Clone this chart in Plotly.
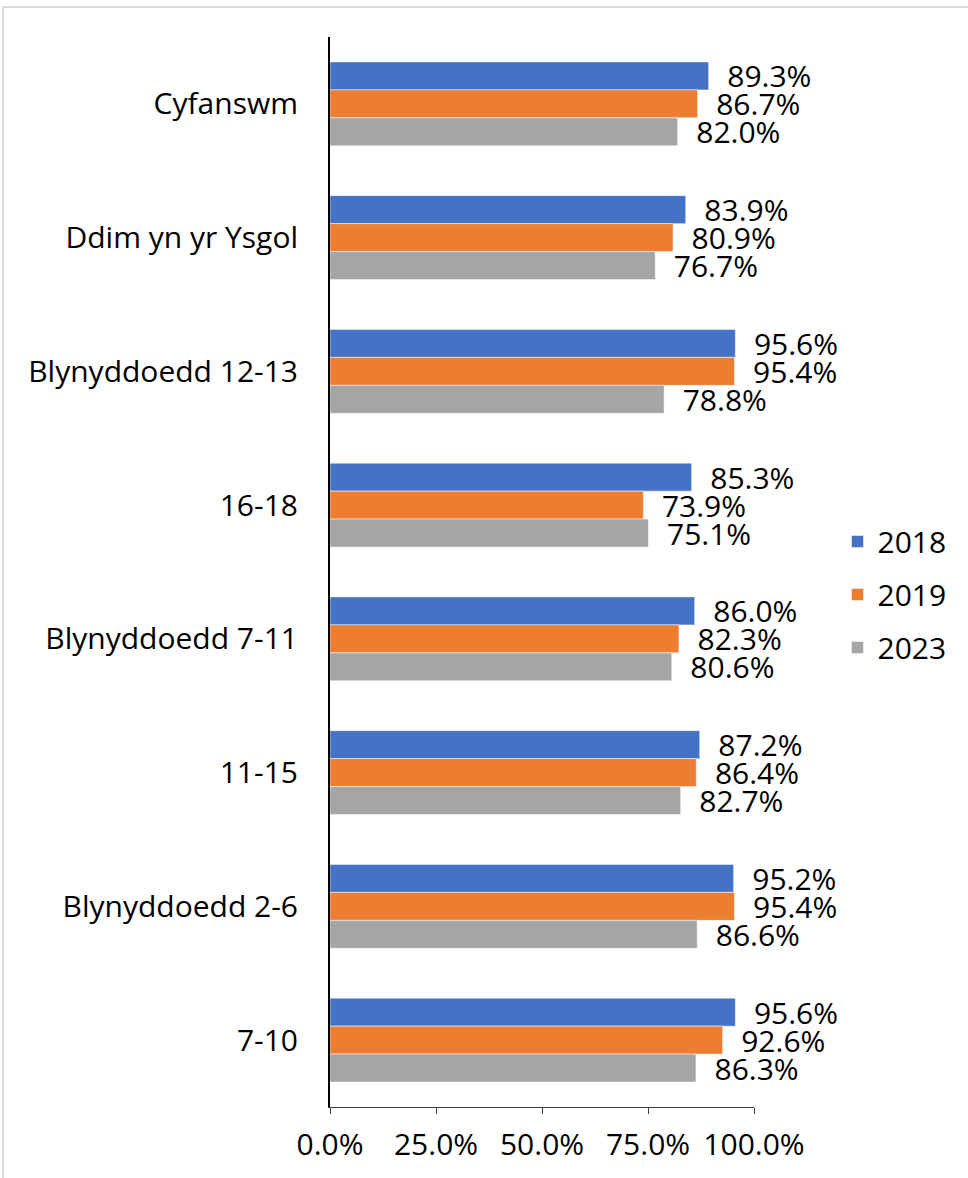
import plotly.graph_objects as go

categories = ["Cyfanswm", "Ddim yn yr Ysgol", "Blynyddoedd 12-13", "16-18",
              "Blynyddoedd 7-11", "11-15", "Blynyddoedd 2-6", "7-10"]
series_names = ["2018", "2019", "2023"]
values_2018 = [0.893, 0.839, 0.956, 0.853, 0.860, 0.872, 0.952, 0.956]
values_2019 = [0.867, 0.809, 0.954, 0.739, 0.823, 0.864, 0.954, 0.926]
values_2023 = [0.820, 0.767, 0.788, 0.751, 0.806, 0.827, 0.866, 0.863]
tick_vals = [0, 0.25, 0.5, 0.75, 1.0]
tick_text = ["0.0%", "25.0%", "50.0%", "75.0%", "100.0%"]

colors = ["#4472C4", "#ED7D31", "#A5A5A5"]
FONT = "Open Sans"
FS = 30
W, H = 968, 1178
ML, MR, MT, MB = 330, 214, 37, 71

fig = go.Figure()
for name, vals, col in zip(series_names, [values_2018, values_2019, values_2023], colors):
    fig.add_trace(go.Bar(
        y=categories, x=vals, name=name, orientation="h",
        marker=dict(color=col, line=dict(color="white", width=0.5)),
        text=[f"{v*100:.1f}%" for v in vals],
        texttemplate="\u00a0\u00a0%{text}",
        textposition="outside", constraintext="none", cliponaxis=False,
        textfont=dict(family=FONT, size=FS, color="black"),
        legendgroup=name,
    ))

pw = W - ML - MR
ph = H - MT - MB
fig.update_layout(
    width=W, height=H,
    margin=dict(l=ML, r=MR, t=MT, b=MB),
    barmode="group", bargap=0.372, bargroupgap=0,
    plot_bgcolor="white", paper_bgcolor="white",
    font=dict(family=FONT, size=FS, color="black"),
    showlegend=True,
    legend=dict(x=1.197, y=0.479, xanchor="left", yanchor="middle",
                font=dict(family=FONT, size=FS, color="black"),
                traceorder="grouped", tracegroupgap=11,
                bgcolor="rgba(0,0,0,0)"),
    xaxis=dict(range=[0, 1.0], tickvals=tick_vals, ticktext=tick_text,
               showgrid=False, zeroline=False, showline=True, linecolor="#404040",
               linewidth=1, ticks="outside", ticklen=6, tickcolor="#404040",
               ticklabelstandoff=5,
               tickfont=dict(family=FONT, size=FS), fixedrange=True),
    yaxis=dict(autorange="reversed", showgrid=False, showline=True,
               linecolor="black", linewidth=2, ticks="", ticklabelstandoff=24,
               tickfont=dict(family=FONT, size=FS)),
    shapes=[dict(type="rect", xref="paper", yref="paper",
                 x0=(3 - ML) / pw, x1=(W + 20 - ML) / pw,
                 y0=-(MB + 20) / ph, y1=1 + (MT - 7) / ph,
                 line=dict(color="#D9D9D9", width=2), layer="below")],
)
fig.write_html("out.html", config={"displayModeBar": False},
               post_script="document.body.style.margin='0';")
